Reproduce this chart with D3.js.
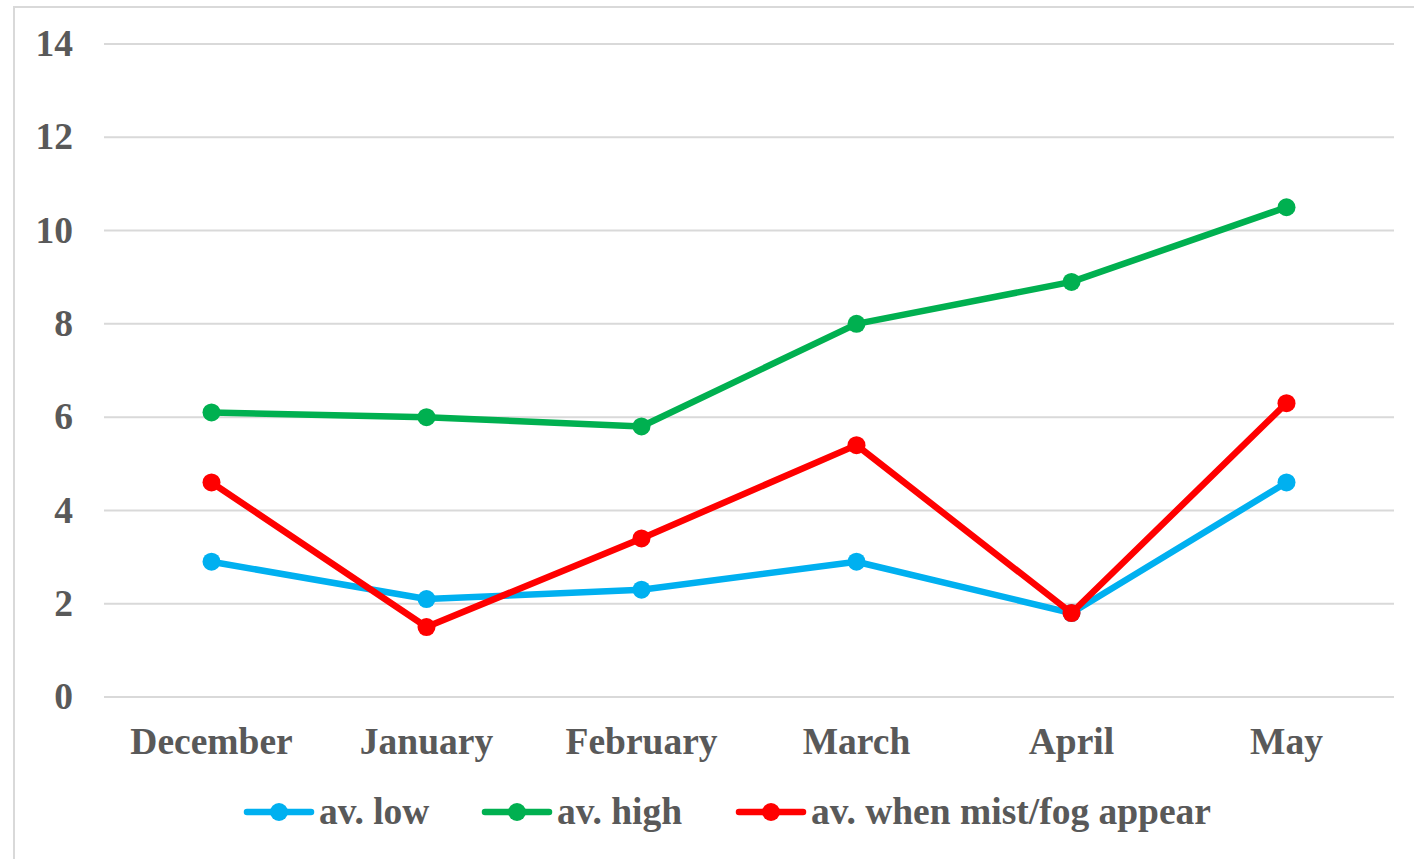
<!DOCTYPE html>
<html><head><meta charset="utf-8">
<script src="https://cdn.jsdelivr.net/npm/d3@7"></script>
<style>body{margin:0;background:#fff}svg{display:block}</style>
</head><body>
<svg id="c" width="1414" height="859"></svg>
<script>
const categories = ["December","January","February","March","April","May"];
const avLow = [2.9, 2.1, 2.3, 2.9, 1.8, 4.6];
const avHigh = [6.1, 6.0, 5.8, 8.0, 8.9, 10.5];
const avFog = [4.6, 1.5, 3.4, 5.4, 1.8, 6.3];
const yTicks = [0,2,4,6,8,10,12,14];
const seriesNames = ["av. low","av. high","av. when mist/fog appear"];
const seriesColors = ["#00b0f0","#00b050","#ff0000"];
const series = [avLow, avHigh, avFog];

const svg = d3.select("#c");
const font = "'Liberation Serif','Times New Roman',serif";
const txt = "#595959";
const fs = 37.5;

svg.append("rect").attr("x",14).attr("y",7).attr("width",1420).attr("height",870)
  .attr("fill","#fff").attr("stroke","#d9d9d9").attr("stroke-width",2);

const x = d3.scaleBand().domain(categories).range([104,1394]);
const y = d3.scaleLinear().domain([0,14]).range([697,44]);

svg.append("g").selectAll("line").data(yTicks).join("line")
  .attr("x1",104).attr("x2",1394).attr("y1",d=>y(d)).attr("y2",d=>y(d))
  .attr("stroke","#d9d9d9").attr("stroke-width",2);

svg.append("g").selectAll("text").data(yTicks).join("text")
  .attr("x",73).attr("y",d=>y(d)-1).attr("dy","0.35em").attr("text-anchor","end")
  .attr("font-family",font).attr("font-weight","bold").attr("font-size",fs).attr("fill",txt)
  .text(d=>d);

svg.append("g").selectAll("text").data(categories).join("text")
  .attr("x",d=>x(d)+x.bandwidth()/2).attr("y",741).attr("dy","0.35em").attr("text-anchor","middle")
  .attr("font-family",font).attr("font-weight","bold").attr("font-size",fs).attr("fill",txt)
  .text(d=>d);

const line = d3.line().x((d,i)=>x(categories[i])+x.bandwidth()/2).y(d=>y(d));
series.forEach((s,k)=>{
  const g = svg.append("g");
  g.append("path").attr("d",line(s)).attr("fill","none").attr("stroke",seriesColors[k])
    .attr("stroke-width",6.5).attr("stroke-linejoin","round").attr("stroke-linecap","round");
  g.selectAll("circle").data(s).join("circle")
    .attr("cx",(d,i)=>x(categories[i])+x.bandwidth()/2).attr("cy",d=>y(d)).attr("r",9)
    .attr("fill",seriesColors[k]);
});

const legX = [245,483,737];
const leg = svg.append("g");
seriesNames.forEach((n,k)=>{
  const g = leg.append("g").attr("transform",`translate(${legX[k]},812)`);
  g.append("line").attr("x1",2).attr("x2",66).attr("stroke",seriesColors[k]).attr("stroke-width",6.5).attr("stroke-linecap","round");
  g.append("circle").attr("cx",34).attr("r",9).attr("fill",seriesColors[k]);
  g.append("text").attr("x",74).attr("y",-1).attr("dy","0.35em").attr("font-family",font).attr("font-weight","bold")
    .attr("font-size",fs).attr("fill",txt).text(n);
});
</script>
</body></html>
